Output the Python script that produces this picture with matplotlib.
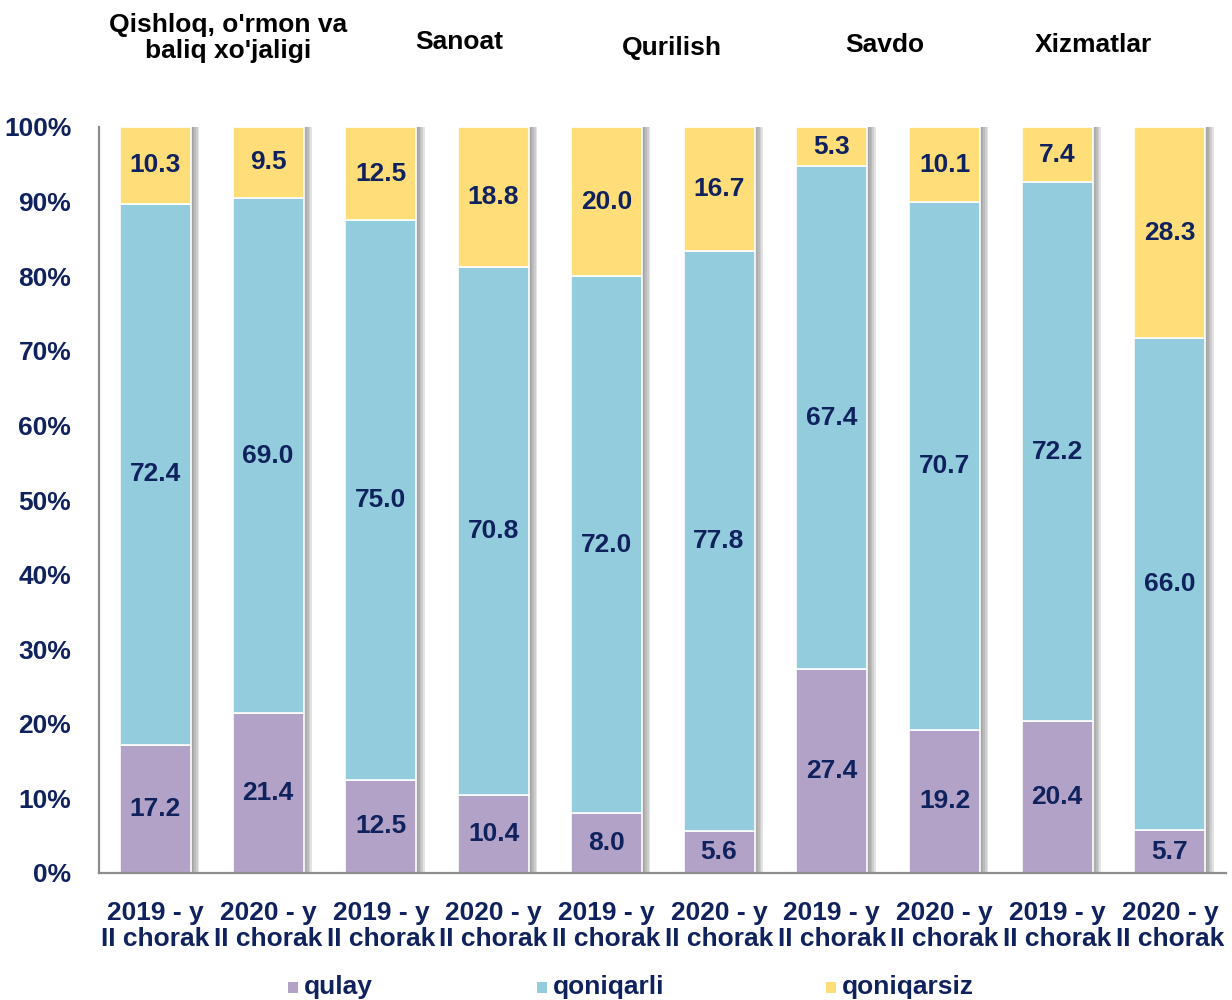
import matplotlib
matplotlib.use("Agg")
import matplotlib.pyplot as plt
import matplotlib.patheffects as pe
from matplotlib.patches import Rectangle
import numpy as np

plt.rcParams['font.family'] = ['Liberation Sans', 'DejaVu Sans']

groups = ["Qishloq, o'rmon va\nbaliq xo'jaligi", "Sanoat", "Qurilish", "Savdo", "Xizmatlar"]
periods = ["2019 - y\nII chorak", "2020 - y\nII chorak"] * 5
series_names = ["qulay", "qoniqarli", "qoniqarsiz"]
qulay = [17.2, 21.4, 12.5, 10.4, 8.0, 5.6, 27.4, 19.2, 20.4, 5.7]
qoniqarli = [72.4, 69.0, 75.0, 70.8, 72.0, 77.8, 67.4, 70.7, 72.2, 66.0]
qoniqarsiz = [10.3, 9.5, 12.5, 18.8, 20.0, 16.7, 5.3, 10.1, 7.4, 28.3]

colors = ['#B3A2C7', '#93CDDD', '#FFDE7A']
navy = '#10225E'

fig = plt.figure(figsize=(12.32, 10), dpi=100)
ax = fig.add_axes([0.0804, 0.127, 0.915, 0.746])

data = np.array([qulay, qoniqarli, qoniqarsiz])
totals = data.sum(axis=0)
pct = data / totals * 100
x = np.arange(len(periods))
bottom = np.zeros(len(periods))
shadow = [pe.SimplePatchShadow(offset=(d, 0), shadow_rgbFace='#808080', alpha=0.22)
          for d in (1.2, 2.4, 3.6, 4.8, 6.0)] + [pe.Normal()]
for i in range(3):
    bars = ax.bar(x, pct[i], 0.63, bottom=bottom, color=colors[i], edgecolor='white',
                  linewidth=1.2, zorder=2)
    for b in bars:
        b.set_path_effects(shadow)
    for xi, h, bt, v in zip(x, pct[i], bottom, data[i]):
        ax.text(xi, bt + h / 2, f"{v:.1f}", ha='center', va='center', fontsize=19,
                fontweight='bold', color=navy, zorder=3)
    bottom += pct[i]

ax.set_xlim(-0.5, 9.5)
ax.set_ylim(0, 100)
ax.set_yticks(np.arange(0, 101, 10))
ax.set_yticklabels([f"{v}%" for v in range(0, 101, 10)], fontsize=19, fontweight='bold', color=navy)
ax.set_xticks(x)
ax.set_xticklabels(periods, fontsize=19, fontweight='bold', color=navy, linespacing=1.1)
ax.tick_params(axis='both', length=0)
ax.tick_params(axis='x', pad=20)
ax.tick_params(axis='y', pad=20)
for s in ['top', 'right']:
    ax.spines[s].set_visible(False)
for s in ['left', 'bottom']:
    ax.spines[s].set_color('#8c8c8c')
    ax.spines[s].set_linewidth(1.6)

# group titles
title_pos = [(228, 38), (459, 42), (672, 48), (885, 45), (1093, 45)]
for g, (px, py) in zip(groups, title_pos):
    fig.text(px / 1232, 1 - py / 1000, g, ha='center', va='center', fontsize=19,
             fontweight='bold', color='black', linespacing=1.1)

# legend
leg_pos = [288, 537, 826]
for name, c, px in zip(series_names, colors, leg_pos):
    fig.add_artist(Rectangle((px / 1232, 1 - 993 / 1000), 10 / 1232, 11 / 1000,
                             transform=fig.transFigure, facecolor=c, edgecolor='none'))
    fig.text((px + 16) / 1232, 1 - 987 / 1000, name, ha='left', va='center', fontsize=19,
             fontweight='bold', color=navy)

fig.savefig("out.png", dpi=100)
